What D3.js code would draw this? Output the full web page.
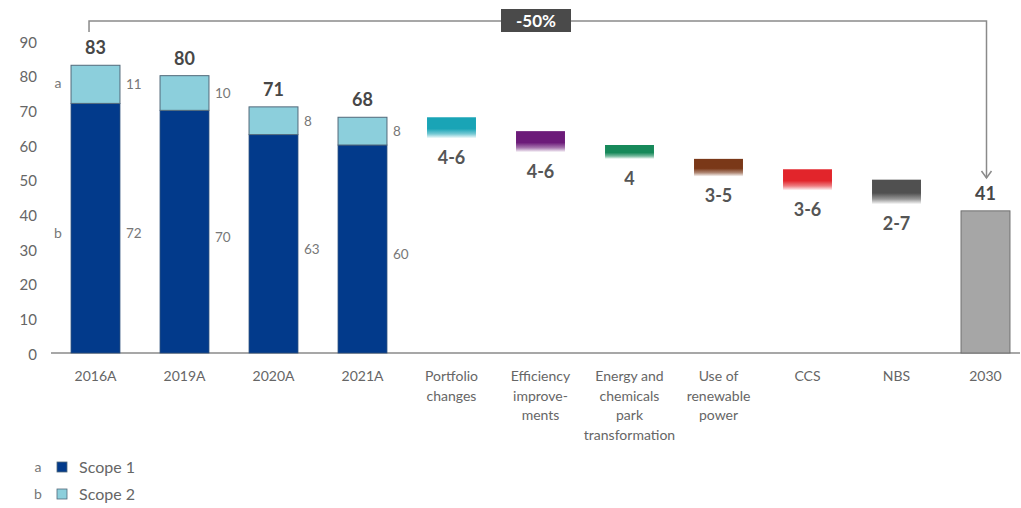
<!DOCTYPE html>
<html>
<head>
<meta charset="utf-8">
<script src="https://cdn.jsdelivr.net/npm/d3@7"></script>
<style>
  body { margin: 0; background: #fff; }
  svg { display: block; font-family: Lato, "Open Sans", sans-serif; }
</style>
</head>
<body>
<div id="chart"></div>
<script>
// categories along the x axis, with wrapped label lines
const categories = ['2016A', '2019A', '2020A', '2021A', 'Portfolio changes', 'Efficiency improvements',
  'Energy and chemicals park transformation', 'Use of renewable power', 'CCS', 'NBS', '2030'];
const categoryLines = [['2016A'], ['2019A'], ['2020A'], ['2021A'], ['Portfolio', 'changes'],
  ['Efficiency', 'improve-', 'ments'], ['Energy and', 'chemicals', 'park', 'transformation'],
  ['Use of', 'renewable', 'power'], ['CCS'], ['NBS'], ['2030']];

// historic emissions
const years = ['2016A', '2019A', '2020A', '2021A'];
const scope1 = [72, 70, 63, 60];
const scope2 = [11, 10, 8, 8];
const totals = [83, 80, 71, 68];

// reduction levers (ranges)
const levers = ['Portfolio changes', 'Efficiency improvements', 'Energy and chemicals park transformation',
  'Use of renewable power', 'CCS', 'NBS'];
const leverLow = [4, 4, 4, 3, 3, 2];
const leverHigh = [6, 6, 4, 5, 6, 7];
const leverLabels = ['4-6', '4-6', '4', '3-5', '3-6', '2-7'];
const leverColors = ['#19a4b6', '#6c1b79', '#17895a', '#7a3818', '#e2252b', '#505050'];

const target2030 = 41;
const yTicks = [0, 10, 20, 30, 40, 50, 60, 70, 80, 90];

const width = 1021, height = 508;
const svg = d3.select('#chart').append('svg')
  .attr('width', width).attr('height', height);

const x = d3.scaleBand().domain(categories).range([51, 1030])
  .paddingInner(0.45).paddingOuter(0.225);
const y = d3.scaleLinear().domain([0, 90]).range([353, 41]);

// y axis labels
const yAxis = svg.append('g').attr('transform', 'translate(37,0)')
  .call(d3.axisLeft(y).tickValues(yTicks).tickSize(0).tickPadding(0));
yAxis.select('.domain').remove();
yAxis.selectAll('text').attr('fill', '#666').attr('font-size', 15)
  .attr('font-family', 'Lato, sans-serif').attr('dy', '0.75em').attr('transform', 'translate(0,-5)');

// baseline
svg.append('line').attr('x1', 51).attr('x2', 1020).attr('y1', y(0)).attr('y2', y(0))
  .attr('stroke', '#8a8a8a').attr('stroke-width', 1.5);

// stacked historic bars
const hist = years.map((yr, i) => ({ yr, s1: scope1[i], s2: scope2[i], total: totals[i] }));
const g = svg.append('g');
g.selectAll('rect.s1').data(hist).enter().append('rect')
  .attr('x', d => x(d.yr)).attr('width', x.bandwidth())
  .attr('y', d => y(d.s1)).attr('height', d => y(0) - y(d.s1))
  .attr('fill', '#023a8b').attr('stroke', '#2c4f7c').attr('stroke-width', 0.8);
g.selectAll('rect.s2').data(hist).enter().append('rect')
  .attr('x', d => x(d.yr)).attr('width', x.bandwidth())
  .attr('y', d => y(d.total)).attr('height', d => y(d.s1) - y(d.total))
  .attr('fill', '#8ccfdc').attr('stroke', '#52697a').attr('stroke-width', 1);

// totals
g.selectAll('text.total').data(hist).enter().append('text')
  .attr('x', d => x(d.yr) + x.bandwidth() / 2).attr('y', d => y(d.total) - 11)
  .attr('text-anchor', 'middle').attr('font-size', 18).attr('font-weight', 700)
  .attr('fill', '#474747').text(d => d.total);

// segment values
g.selectAll('text.v2').data(hist).enter().append('text')
  .attr('x', d => x(d.yr) + x.bandwidth() + 6).attr('y', d => (y(d.total) + y(d.s1)) / 2 + 5)
  .attr('font-size', 13.5).attr('fill', '#777').text(d => d.s2);
g.selectAll('text.v1').data(hist).enter().append('text')
  .attr('x', d => x(d.yr) + x.bandwidth() + 6).attr('y', d => (y(0) + y(d.s1)) / 2 + 10)
  .attr('font-size', 13.5).attr('fill', '#777').text(d => d.s1);

// a / b markers beside the first bar
svg.append('text').attr('x', 58).attr('y', (y(totals[0]) + y(scope1[0])) / 2 + 4)
  .attr('text-anchor', 'middle').attr('font-size', 14).attr('fill', '#777').text('a');
svg.append('text').attr('x', 58).attr('y', (y(0) + y(scope1[0])) / 2 + 10)
  .attr('text-anchor', 'middle').attr('font-size', 14).attr('fill', '#777').text('b');

// lever bars with fading gradient
const defs = svg.append('defs');
let start = totals[totals.length - 1];
const leverData = levers.map((name, i) => {
  const d = { name, top: start, bottom: start - leverHigh[i], label: leverLabels[i], color: leverColors[i], i };
  start -= leverLow[i];
  return d;
});
leverData.forEach(d => {
  const grad = defs.append('linearGradient').attr('id', 'lev' + d.i)
    .attr('x1', 0).attr('x2', 0).attr('y1', 0).attr('y2', 1);
  grad.append('stop').attr('offset', '0%').attr('stop-color', d.color);
  grad.append('stop').attr('offset', '55%').attr('stop-color', d.color);
  grad.append('stop').attr('offset', '80%').attr('stop-color', d.color).attr('stop-opacity', 0.6);
  grad.append('stop').attr('offset', '100%').attr('stop-color', d.color).attr('stop-opacity', 0.05);
});
g.selectAll('rect.lever').data(leverData).enter().append('rect')
  .attr('x', d => x(d.name)).attr('width', x.bandwidth())
  .attr('y', d => y(d.top)).attr('height', d => y(d.bottom) - y(d.top))
  .attr('fill', d => `url(#lev${d.i})`);
g.selectAll('text.lever').data(leverData).enter().append('text')
  .attr('x', d => x(d.name) + x.bandwidth() / 2).attr('y', d => y(d.bottom) + 26)
  .attr('text-anchor', 'middle').attr('font-size', 18).attr('font-weight', 700)
  .attr('fill', '#555').text(d => d.label);

// 2030 bar
g.append('rect').attr('x', x('2030')).attr('width', x.bandwidth())
  .attr('y', y(target2030)).attr('height', y(0) - y(target2030))
  .attr('fill', '#a6a6a6').attr('stroke', '#707070').attr('stroke-width', 1);
g.append('text').attr('x', x('2030') + x.bandwidth() / 2).attr('y', y(target2030) - 11)
  .attr('text-anchor', 'middle').attr('font-size', 18).attr('font-weight', 700)
  .attr('fill', '#474747').text(target2030);

// x labels
const xl = svg.append('g');
categories.forEach((c, i) => {
  const t = xl.append('text').attr('x', x(c) + x.bandwidth() / 2).attr('y', 381)
    .attr('text-anchor', 'middle').attr('font-size', 14).attr('fill', '#666');
  categoryLines[i].forEach((line, j) => {
    t.append('tspan').attr('x', x(c) + x.bandwidth() / 2).attr('y', 381 + j * 19.5).text(line);
  });
});

// -50% bracket
const xl0 = x('2016A') + 18, xr = x('2030') + x.bandwidth() / 2 + 1;
const bracketY = 21;
svg.append('path')
  .attr('d', `M${xl0},32V${bracketY}H${xr}V178`)
  .attr('fill', 'none').attr('stroke', '#8a8a8a').attr('stroke-width', 1.5);
svg.append('path')
  .attr('d', `M${xr - 5},171L${xr},178L${xr + 5},171`)
  .attr('fill', 'none').attr('stroke', '#8a8a8a').attr('stroke-width', 1.5);
svg.append('rect').attr('x', 501).attr('y', 9).attr('width', 70).attr('height', 23)
  .attr('fill', '#4a4a4a');
svg.append('text').attr('x', 536).attr('y', 27).attr('text-anchor', 'middle')
  .attr('font-size', 17).attr('font-weight', 700).attr('fill', '#fff').text('-50%');

// legend
const legend = [{ key: 'a', name: 'Scope 1', color: '#023a8b' }, { key: 'b', name: 'Scope 2', color: '#8ccfdc' }];
const lg = svg.append('g').selectAll('g').data(legend).enter().append('g')
  .attr('transform', (d, i) => `translate(0,${467 + i * 27})`);
lg.append('text').attr('x', 38).attr('y', 5).attr('text-anchor', 'middle')
  .attr('font-size', 14).attr('fill', '#777').text(d => d.key);
lg.append('rect').attr('x', 57).attr('y', -5).attr('width', 10).attr('height', 10)
  .attr('fill', d => d.color).attr('stroke', '#52697a').attr('stroke-width', 0.8);
lg.append('text').attr('x', 79).attr('y', 6).attr('font-size', 16).attr('fill', '#666').text(d => d.name);
</script>
</body>
</html>
